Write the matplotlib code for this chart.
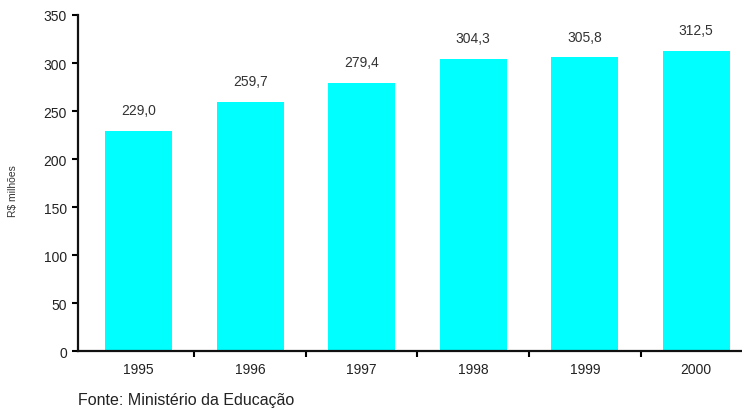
import matplotlib
matplotlib.use('Agg')
import matplotlib.pyplot as plt

anos = ['1995', '1996', '1997', '1998', '1999', '2000']
valores = [229.0, 259.7, 279.4, 304.3, 305.8, 312.5]
rotulos = ['229,0', '259,7', '279,4', '304,3', '305,8', '312,5']
y_ticks = [0, 50, 100, 150, 200, 250, 300, 350]

plt.rcParams['font.family'] = ['Liberation Sans', 'DejaVu Sans']

fig = plt.figure(figsize=(7.42, 4.10), dpi=100)
ax = fig.add_axes([0.105, 0.141, 0.895, 0.82])

x = list(range(len(anos)))
ax.bar(x, valores, width=0.6, color='#00FFFF', zorder=2)

# valores acima das barras
for i, (v, r) in enumerate(zip(valores, rotulos)):
    ax.annotate(r, (i, v), xytext=(0, 10), textcoords='offset points',
                ha='center', va='bottom', fontsize=10, color='#333333')

ax.set_xlim(-0.545, 5.41)
ax.set_ylim(0, 350)
ax.set_yticks(y_ticks)
ax.set_yticklabels([str(t) for t in y_ticks], fontsize=10, color='#222222')

# rótulos dos anos no centro, ticks nas divisões
ax.set_xticks(x)
ax.set_xticklabels(anos, fontsize=10, color='#222222')
ax.tick_params(axis='x', which='major', length=0, pad=8)
ax.set_xticks([i + 0.5 for i in x[:-1]], minor=True)
ax.tick_params(axis='x', which='minor', length=4, width=1.5, direction='out')
ax.tick_params(axis='y', length=4, width=1.5, direction='out', pad=4)

for s in ['top', 'right']:
    ax.spines[s].set_visible(False)
for s in ['left', 'bottom']:
    ax.spines[s].set_linewidth(1.6)
    ax.spines[s].set_color('#111111')

fig.text(0.018, 0.535, 'R$ milhões', rotation=90, ha='center', va='center',
         fontsize=7.5, color='#333333')
fig.text(0.105, 0.022, 'Fonte: Ministério da Educação', ha='left', va='center',
         fontsize=11.5, color='#222222')

fig.savefig('out.png', dpi=100)
